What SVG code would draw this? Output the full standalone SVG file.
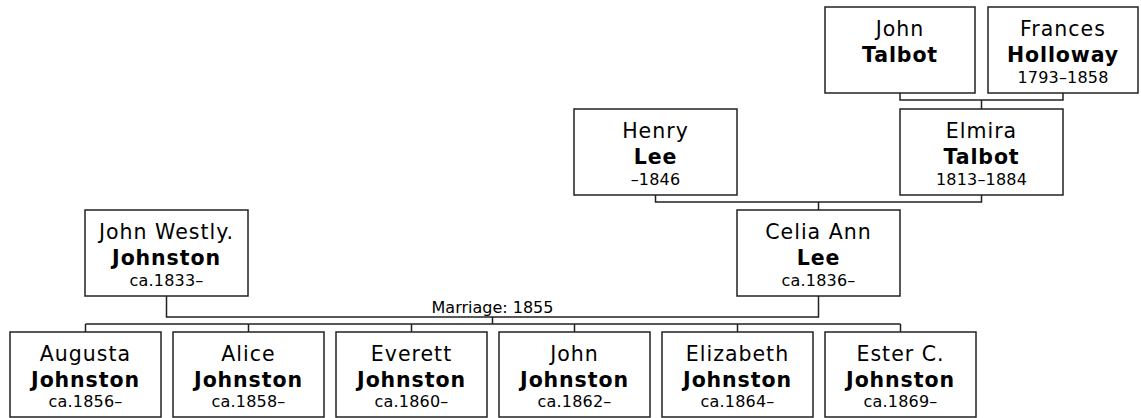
<svg xmlns="http://www.w3.org/2000/svg" width="1141" height="418" viewBox="0 0 1141 418">
<style>
.box{fill:#fff;stroke:#222;stroke-width:1.5}
.ln{fill:none;stroke:#222;stroke-width:1.5}
text{font-family:"DejaVu Sans",Verdana,sans-serif;fill:#000;text-anchor:middle}
.g{font-size:20.5px;letter-spacing:1px}
.s{font-size:20.5px;font-weight:bold;letter-spacing:0.9px}
.d{font-size:16px;letter-spacing:0.2px}
.m{font-size:16px}
</style>
<rect width="1141" height="418" fill="#fff"/>
<g id="connectors">
<path class="ln" d="M900 93V100H1063V93M981.5 100V109"/>
<path class="ln" d="M655.5 195V202H981.5V195M818.5 202V210"/>
<path class="ln" d="M166.5 296V317H818.5V296M492.5 317V324M85.5 324H900.5M85.5 324V332M248.5 324V332M411.5 324V332M574.5 324V332M737.5 324V332M900.5 324V332"/>
<text class="m" x="492.5" y="313">Marriage: 1855</text>
</g>
<g id="john-talbot">
<rect class="box" x="825" y="7" width="150" height="86"/>
<text class="g" x="900" y="36">John</text>
<text class="s" x="900" y="62">Talbot</text>
</g>
<g id="frances-holloway">
<rect class="box" x="988" y="7" width="150" height="86"/>
<text class="g" x="1063" y="36">Frances</text>
<text class="s" x="1063" y="62">Holloway</text>
<text class="d" x="1063" y="83">1793–1858</text>
</g>
<g id="henry-lee">
<rect class="box" x="574" y="109" width="163" height="86"/>
<text class="g" x="655.5" y="138">Henry</text>
<text class="s" x="655.5" y="164">Lee</text>
<text class="d" x="655.5" y="185">–1846</text>
</g>
<g id="elmira-talbot">
<rect class="box" x="900" y="109" width="163" height="86"/>
<text class="g" x="981.5" y="138">Elmira</text>
<text class="s" x="981.5" y="164">Talbot</text>
<text class="d" x="981.5" y="185">1813–1884</text>
</g>
<g id="john-westly-johnston">
<rect class="box" x="85" y="210" width="163" height="86"/>
<text class="g" x="166.5" y="239">John Westly.</text>
<text class="s" x="166.5" y="265">Johnston</text>
<text class="d" x="166.5" y="286">ca.1833–</text>
</g>
<g id="celia-ann-lee">
<rect class="box" x="737" y="210" width="163" height="86"/>
<text class="g" x="818.5" y="239">Celia Ann</text>
<text class="s" x="818.5" y="265">Lee</text>
<text class="d" x="818.5" y="286">ca.1836–</text>
</g>
<g id="augusta-johnston">
<rect class="box" x="10" y="332" width="151" height="85"/>
<text class="g" x="85.5" y="361">Augusta</text>
<text class="s" x="85.5" y="387">Johnston</text>
<text class="d" x="85.5" y="407">ca.1856–</text>
</g>
<g id="alice-johnston">
<rect class="box" x="173" y="332" width="151" height="85"/>
<text class="g" x="248.5" y="361">Alice</text>
<text class="s" x="248.5" y="387">Johnston</text>
<text class="d" x="248.5" y="407">ca.1858–</text>
</g>
<g id="everett-johnston">
<rect class="box" x="336" y="332" width="151" height="85"/>
<text class="g" x="411.5" y="361">Everett</text>
<text class="s" x="411.5" y="387">Johnston</text>
<text class="d" x="411.5" y="407">ca.1860–</text>
</g>
<g id="john-johnston">
<rect class="box" x="499" y="332" width="151" height="85"/>
<text class="g" x="574.5" y="361">John</text>
<text class="s" x="574.5" y="387">Johnston</text>
<text class="d" x="574.5" y="407">ca.1862–</text>
</g>
<g id="elizabeth-johnston">
<rect class="box" x="662" y="332" width="151" height="85"/>
<text class="g" x="737.5" y="361">Elizabeth</text>
<text class="s" x="737.5" y="387">Johnston</text>
<text class="d" x="737.5" y="407">ca.1864–</text>
</g>
<g id="ester-johnston">
<rect class="box" x="825" y="332" width="151" height="85"/>
<text class="g" x="900.5" y="361">Ester C.</text>
<text class="s" x="900.5" y="387">Johnston</text>
<text class="d" x="900.5" y="407">ca.1869–</text>
</g>
</svg>
